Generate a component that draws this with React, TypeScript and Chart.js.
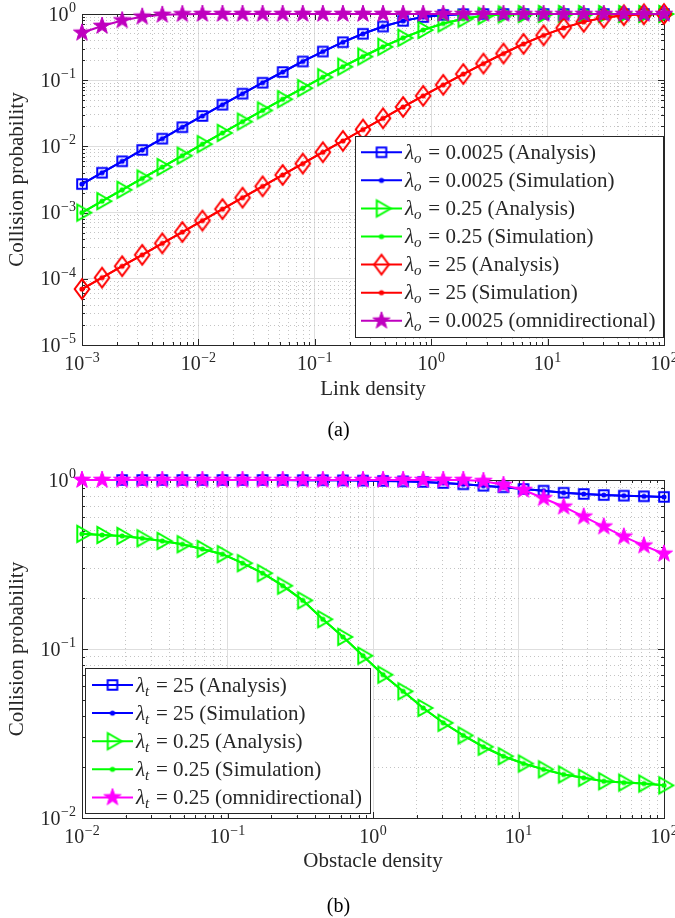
import React, { useEffect, useRef } from 'react';
import { Chart, registerables } from 'chart.js';

Chart.register(...registerables);

const SERIF = '"Liberation Serif", "DejaVu Serif", serif';
const INK = '#262626';
const MAJOR_GRID = '#dedede';
const MINOR_GRID = '#c4c4c4';
const TEXT_SIZE = 21;

// ---------------- (a) Collision probability vs link density ----------------
const linkDensity = [0.001, 0.001487, 0.002212, 0.00329, 0.004894, 0.007279, 0.01083, 0.0161, 0.02395, 0.03562, 0.05298, 0.0788, 0.1172, 0.1743, 0.2593, 0.3857, 0.5736, 0.8532, 1.269, 1.887, 2.807, 4.175, 6.21, 9.237, 13.74, 20.43, 30.39, 45.2, 67.23, 100];
const blueAnalysisA = [0.0027, 0.004, 0.00596, 0.00885, 0.0131, 0.0195, 0.0288, 0.0426, 0.0626, 0.0917, 0.133, 0.192, 0.271, 0.375, 0.503, 0.647, 0.788, 0.9, 0.968, 0.994, 0.9995, 1, 1, 1, 1, 1, 1, 1, 1, 1];
const blueSimulationA = [0.0027, 0.004, 0.00596, 0.00885, 0.0131, 0.0195, 0.0288, 0.0426, 0.0626, 0.0917, 0.133, 0.192, 0.271, 0.375, 0.503, 0.647, 0.788, 0.9, 0.968, 0.994, 0.9995, 1, 1, 1, 1, 1, 1, 1, 1, 1];
const greenAnalysisA = [0.001, 0.00149, 0.00221, 0.00328, 0.00488, 0.00725, 0.0108, 0.016, 0.0237, 0.035, 0.0516, 0.0758, 0.111, 0.16, 0.228, 0.32, 0.437, 0.574, 0.719, 0.849, 0.94, 0.985, 0.998, 1, 1, 1, 1, 1, 1, 1];
const greenSimulationA = [0.001, 0.00149, 0.00221, 0.00328, 0.00488, 0.00725, 0.0108, 0.016, 0.0237, 0.035, 0.0516, 0.0758, 0.111, 0.16, 0.228, 0.32, 0.437, 0.574, 0.719, 0.849, 0.94, 0.985, 0.998, 1, 1, 1, 1, 1, 1, 1];
const redAnalysisA = [0.00007, 0.000104, 0.000155, 0.00023, 0.000343, 0.000509, 0.000758, 0.00113, 0.00168, 0.00249, 0.0037, 0.0055, 0.00817, 0.0121, 0.018, 0.0266, 0.0394, 0.058, 0.085, 0.124, 0.178, 0.253, 0.353, 0.476, 0.618, 0.761, 0.881, 0.958, 0.991, 0.999];
const redSimulationA = [0.00007, 0.000104, 0.000155, 0.00023, 0.000343, 0.000509, 0.000758, 0.00113, 0.00168, 0.00249, 0.0037, 0.0055, 0.00817, 0.0121, 0.018, 0.0266, 0.0394, 0.058, 0.085, 0.124, 0.178, 0.253, 0.353, 0.476, 0.618, 0.761, 0.881, 0.958, 0.991, 0.999];
const omniA = [0.52, 0.66, 0.8, 0.91, 0.972, 0.995, 1, 1, 1, 1, 1, 1, 1, 1, 1, 1, 1, 1, 1, 1, 1, 1, 1, 1, 1, 1, 1, 1, 1, 1];
const legendSubA = 'o';
const legendTextA = ['= 0.0025 (Analysis)', '= 0.0025 (Simulation)', '= 0.25 (Analysis)', '= 0.25 (Simulation)', '= 25 (Analysis)', '= 25 (Simulation)', '= 0.0025 (omnidirectional)'];
const xTickExpA = [-3, -2, -1, 0, 1, 2];
const yTickExpA = [0, -1, -2, -3, -4, -5];
const xTitleA = 'Link density';

// ---------------- (b) Collision probability vs obstacle density ----------------
const obstacleDensity = [0.01, 0.01374, 0.01887, 0.02593, 0.03562, 0.04894, 0.06723, 0.09237, 0.1269, 0.1743, 0.2395, 0.329, 0.452, 0.621, 0.8532, 1.172, 1.61, 2.212, 3.039, 4.175, 5.736, 7.88, 10.83, 14.87, 20.43, 28.07, 38.57, 52.98, 72.79, 100];
const blueAnalysisB = [null, null, 1, 1, 1, 1, 1, 1, 1, 1, 1, 0.998, 0.997, 0.995, 0.992, 0.988, 0.982, 0.974, 0.96, 0.943, 0.925, 0.906, 0.885, 0.865, 0.841, 0.827, 0.815, 0.808, 0.801, 0.794];
const blueSimulationB = [null, null, 1, 1, 1, 1, 1, 1, 1, 1, 1, 0.998, 0.997, 0.995, 0.992, 0.988, 0.982, 0.974, 0.96, 0.943, 0.925, 0.906, 0.885, 0.865, 0.841, 0.827, 0.815, 0.808, 0.801, 0.794];
const greenAnalysisB = [0.48, 0.473, 0.467, 0.452, 0.436, 0.417, 0.391, 0.364, 0.322, 0.281, 0.237, 0.194, 0.15, 0.118, 0.0913, 0.0705, 0.0562, 0.0448, 0.0366, 0.0308, 0.0264, 0.0232, 0.021, 0.0194, 0.0181, 0.0173, 0.0165, 0.0162, 0.016, 0.0156];
const greenSimulationB = [0.48, 0.473, 0.467, 0.452, 0.436, 0.417, 0.391, 0.364, 0.322, 0.281, 0.237, 0.194, 0.15, 0.118, 0.0913, 0.0705, 0.0562, 0.0448, 0.0366, 0.0308, 0.0264, 0.0232, 0.021, 0.0194, 0.0181, 0.0173, 0.0165, 0.0162, 0.016, 0.0156];
const omniB = [1, 1, 1, 1, 1, 1, 1, 1, 1, 1, 1, 1, 1, 1, 1, 1, 1, 1, 1, 1, 0.986, 0.934, 0.873, 0.78, 0.695, 0.607, 0.53, 0.462, 0.409, 0.366];
const legendSubB = 't';
const legendTextB = ['= 25 (Analysis)', '= 25 (Simulation)', '= 0.25 (Analysis)', '= 0.25 (Simulation)', '= 0.25 (omnidirectional)'];
const xTickExpB = [-2, -1, 0, 1, 2];
const yTickExpB = [0, -1, -2];
const xTitleB = 'Obstacle density';

const yTitle = 'Collision probability';
const captions = ['(a)', '(b)'];

const BLUE = '#0000ff';
const GREEN = '#00ff00';
const RED = '#ff0000';
const PURPLE = '#bf00bf';
const MAGENTA = '#ff00ff';

type Series = { xs: number[]; ys: (number | null)[]; color: string; marker: string };
type LegendBox = { x: number; y: number; w: number; h: number; row0: number; step: number; lx1: number; lx2: number; tx: number };
type Spec = {
  series: Series[];
  sub: string;
  texts: string[];
  xExps: number[];
  yExps: number[];
  xTitle: string;
  height: number;
  area: { left: number; right: number; top: number; bottom: number };
  xAxisBottom: number;
  legend: LegendBox;
};

function makeMarker(shape: string, color: string): HTMLCanvasElement {
  const S = 30;
  const c = document.createElement('canvas');
  c.width = S;
  c.height = S;
  const g = c.getContext('2d')!;
  const m = S / 2;
  g.strokeStyle = color;
  g.fillStyle = color;
  g.lineWidth = 2;
  g.lineJoin = 'miter';
  g.miterLimit = 4;
  g.beginPath();
  if (shape === 'square') {
    g.rect(m - 4.8, m - 4.8, 9.6, 9.6);
    g.stroke();
  } else if (shape === 'triangle') {
    g.moveTo(m + 9.3, m);
    g.lineTo(m - 4.7, m - 8);
    g.lineTo(m - 4.7, m + 8);
    g.closePath();
    g.stroke();
  } else if (shape === 'diamond') {
    g.moveTo(m, m - 9.8);
    g.lineTo(m + 7.3, m);
    g.lineTo(m, m + 9.8);
    g.lineTo(m - 7.3, m);
    g.closePath();
    g.stroke();
  } else if (shape === 'star') {
    const R = 9;
    const r = R * 0.4;
    for (let k = 0; k < 10; k++) {
      const a = -Math.PI / 2 + (k * Math.PI) / 5;
      const rr = k % 2 === 0 ? R : r;
      const px = m + rr * Math.cos(a);
      const py = m + rr * Math.sin(a);
      if (k === 0) g.moveTo(px, py);
      else g.lineTo(px, py);
    }
    g.closePath();
    g.fill();
    g.lineWidth = 1;
    g.stroke();
  } else {
    g.arc(m, m, 2.6, 0, Math.PI * 2);
    g.fill();
  }
  return c;
}

function logTicks(exps: number[]) {
  const lo = Math.min(...exps);
  const hi = Math.max(...exps);
  const ticks: { value: number; major: boolean }[] = [];
  for (let e = lo; e < hi; e++) {
    for (let k = 1; k <= 9; k++) ticks.push({ value: k * Math.pow(10, e), major: k === 1 });
  }
  ticks.push({ value: Math.pow(10, hi), major: true });
  return ticks;
}

function drawPow10(ctx: CanvasRenderingContext2D, exp: number, x: number, baseline: number, align: 'center' | 'right') {
  const base = '10';
  const sup = exp < 0 ? '\u2212' + String(-exp) : String(exp);
  ctx.font = `20px ${SERIF}`;
  const wb = ctx.measureText(base).width;
  ctx.font = `14px ${SERIF}`;
  const ws = ctx.measureText(sup).width;
  const total = wb + ws + 0.5;
  const x0 = align === 'center' ? x - total / 2 : x - total;
  ctx.textAlign = 'left';
  ctx.textBaseline = 'alphabetic';
  ctx.fillStyle = INK;
  ctx.font = `20px ${SERIF}`;
  ctx.fillText(base, x0, baseline);
  ctx.font = `14px ${SERIF}`;
  ctx.fillText(sup, x0 + wb + 0.5, baseline - 8.5);
}

function buildChart(canvas: HTMLCanvasElement, spec: Spec) {
  const W = 675;
  const H = spec.height;
  const n = spec.series.length;
  const markers = spec.series.map((s) => makeMarker(s.marker, s.color));

  const datasets = spec.series.map((s, i) => ({
    label: `λ${spec.sub} ${spec.texts[i]}`,
    data: s.xs
      .map((x, j) => ({ x, y: s.ys[j] }))
      .filter((p) => p.y !== null && p.y !== undefined),
    borderColor: s.color,
    backgroundColor: s.color,
    borderWidth: 2,
    pointStyle: markers[i],
    pointRadius: 6,
    pointHoverRadius: 6,
    pointBorderWidth: 0,
    tension: 0,
    fill: false,
    clip: false as const,
    order: n - 1 - i,
  }));

  const a = spec.area;
  const L = spec.legend;

  const axesPlugin = {
    id: 'matlabAxes',
    beforeDatasetsDraw(chart: any) {
      const { ctx, chartArea: ca, scales } = chart;
      const xs = scales.x;
      const ys = scales.y;
      ctx.save();
      ctx.strokeStyle = INK;
      ctx.lineWidth = 1;
      ctx.setLineDash([]);
      ctx.beginPath();
      for (const t of xs.ticks) {
        const px = Math.round(xs.getPixelForValue(t.value)) + 0.5;
        const len = t.major ? 6 : 3;
        ctx.moveTo(px, ca.bottom);
        ctx.lineTo(px, ca.bottom - len);
        ctx.moveTo(px, ca.top);
        ctx.lineTo(px, ca.top + len);
      }
      for (const t of ys.ticks) {
        const py = Math.round(ys.getPixelForValue(t.value)) + 0.5;
        const len = t.major ? 6 : 3;
        ctx.moveTo(ca.left, py);
        ctx.lineTo(ca.left + len, py);
        ctx.moveTo(ca.right, py);
        ctx.lineTo(ca.right - len, py);
      }
      ctx.stroke();
      ctx.strokeRect(Math.round(ca.left) + 0.5, Math.round(ca.top) + 0.5, Math.round(ca.right - ca.left), Math.round(ca.bottom - ca.top));
      ctx.restore();
    },
    afterDraw(chart: any) {
      const { ctx, chartArea: ca, scales } = chart;
      ctx.save();
      for (const e of spec.xExps) {
        drawPow10(ctx, e, scales.x.getPixelForValue(Math.pow(10, e)), ca.bottom + 25, 'center');
      }
      for (const e of spec.yExps) {
        drawPow10(ctx, e, ca.left - 6, scales.y.getPixelForValue(Math.pow(10, e)) + 6.5, 'right');
      }
      // legend
      ctx.fillStyle = '#ffffff';
      ctx.fillRect(L.x, L.y, L.w, L.h);
      ctx.strokeStyle = INK;
      ctx.lineWidth = 1;
      ctx.strokeRect(Math.round(L.x) + 0.5, Math.round(L.y) + 0.5, Math.round(L.w), Math.round(L.h));
      spec.series.forEach((s, i) => {
        const y = L.row0 + i * L.step;
        ctx.strokeStyle = s.color;
        ctx.lineWidth = 2;
        ctx.beginPath();
        ctx.moveTo(L.lx1, y);
        ctx.lineTo(L.lx2, y);
        ctx.stroke();
        const mk = markers[i];
        ctx.drawImage(mk, (L.lx1 + L.lx2) / 2 - mk.width / 2, y - mk.height / 2);
        const bl = y + 6.5;
        let x = L.tx;
        ctx.fillStyle = INK;
        ctx.textAlign = 'left';
        ctx.textBaseline = 'alphabetic';
        ctx.font = `italic ${TEXT_SIZE}px ${SERIF}`;
        ctx.fillText('λ', x, bl);
        x += ctx.measureText('λ').width;
        ctx.font = `italic 15px ${SERIF}`;
        ctx.fillText(spec.sub, x, bl + 4);
        x += ctx.measureText(spec.sub).width + 1.5;
        ctx.font = `${TEXT_SIZE}px ${SERIF}`;
        ctx.fillText(' ' + spec.texts[i], x, bl);
      });
      ctx.restore();
    },
  };

  const xMin = Math.pow(10, Math.min(...spec.xExps));
  const xMax = Math.pow(10, Math.max(...spec.xExps));
  const yMin = Math.pow(10, Math.min(...spec.yExps));
  const yMax = Math.pow(10, Math.max(...spec.yExps));

  const gridColor = (c: any) => (c.tick && c.tick.major ? MAJOR_GRID : MINOR_GRID);
  const gridDash = (c: any) => (c.tick && c.tick.major ? [] : [1, 3]);

  return new Chart(canvas, {
    type: 'line',
    data: { datasets: datasets as any },
    options: {
      animation: false,
      responsive: false,
      maintainAspectRatio: false,
      devicePixelRatio: 1,
      events: [],
      layout: { padding: { left: 0, right: W - a.right, top: a.top, bottom: H - spec.xAxisBottom } },
      plugins: { legend: { display: false }, tooltip: { enabled: false } },
      scales: {
        x: {
          type: 'logarithmic',
          position: 'bottom',
          min: xMin,
          max: xMax,
          afterBuildTicks: (s: any) => {
            s.ticks = logTicks(spec.xExps);
          },
          afterFit: (s: any) => {
            s.height = spec.xAxisBottom - a.bottom;
          },
          ticks: { display: false, autoSkip: false },
          grid: { drawTicks: false, color: gridColor, lineWidth: 1 },
          border: { display: false, dash: gridDash },
          title: { display: true, text: spec.xTitle, color: INK, font: { family: SERIF, size: TEXT_SIZE }, padding: 0 },
        },
        y: {
          type: 'logarithmic',
          position: 'left',
          min: yMin,
          max: yMax,
          afterBuildTicks: (s: any) => {
            s.ticks = logTicks(spec.yExps);
          },
          afterFit: (s: any) => {
            s.width = a.left;
          },
          ticks: { display: false, autoSkip: false },
          grid: { drawTicks: false, color: gridColor, lineWidth: 1 },
          border: { display: false, dash: gridDash },
          title: { display: true, text: yTitle, color: INK, font: { family: SERIF, size: TEXT_SIZE }, padding: { top: 5, bottom: 0 } },
        },
      },
    } as any,
    plugins: [axesPlugin],
  });
}

const specA: Spec = {
  series: [
    { xs: linkDensity, ys: blueAnalysisA, color: BLUE, marker: 'square' },
    { xs: linkDensity, ys: blueSimulationA, color: BLUE, marker: 'dot' },
    { xs: linkDensity, ys: greenAnalysisA, color: GREEN, marker: 'triangle' },
    { xs: linkDensity, ys: greenSimulationA, color: GREEN, marker: 'dot' },
    { xs: linkDensity, ys: redAnalysisA, color: RED, marker: 'diamond' },
    { xs: linkDensity, ys: redSimulationA, color: RED, marker: 'dot' },
    { xs: linkDensity, ys: omniA, color: PURPLE, marker: 'star' },
  ],
  sub: legendSubA,
  texts: legendTextA,
  xExps: xTickExpA,
  yExps: yTickExpA,
  xTitle: xTitleA,
  height: 450,
  area: { left: 82, right: 664, top: 14, bottom: 345 },
  xAxisBottom: 402,
  legend: { x: 355, y: 136, w: 308, h: 201, row0: 152.3, step: 28.07, lx1: 361, lx2: 402, tx: 405 },
};

const specB: Spec = {
  series: [
    { xs: obstacleDensity, ys: blueAnalysisB, color: BLUE, marker: 'square' },
    { xs: obstacleDensity, ys: blueSimulationB, color: BLUE, marker: 'dot' },
    { xs: obstacleDensity, ys: greenAnalysisB, color: GREEN, marker: 'triangle' },
    { xs: obstacleDensity, ys: greenSimulationB, color: GREEN, marker: 'dot' },
    { xs: obstacleDensity, ys: omniB, color: MAGENTA, marker: 'star' },
  ],
  sub: legendSubB,
  texts: legendTextB,
  xExps: xTickExpB,
  yExps: yTickExpB,
  xTitle: xTitleB,
  height: 468,
  area: { left: 82, right: 664, top: 30, bottom: 368 },
  xAxisBottom: 424,
  legend: { x: 85, y: 218, w: 285, h: 145, row0: 235, step: 28.1, lx1: 92, lx2: 133, tx: 136 },
};

function Panel({ spec, top }: { spec: Spec; top: number }) {
  const ref = useRef<HTMLCanvasElement>(null);
  useEffect(() => {
    if (!ref.current) return;
    const chart = buildChart(ref.current, spec);
    return () => chart.destroy();
  }, [spec]);
  return (
    <canvas
      ref={ref}
      width={675}
      height={spec.height}
      style={{ position: 'absolute', left: 0, top, width: 675, height: spec.height, display: 'block' }}
    />
  );
}

const captionStyle: React.CSSProperties = {
  position: 'absolute',
  left: 0,
  width: 677,
  textAlign: 'center',
  fontFamily: SERIF,
  fontSize: 20,
  lineHeight: '24px',
  color: '#000',
};

export default function App() {
  return (
    <div style={{ position: 'absolute', left: 0, top: 0, width: 675, height: 918, background: '#fff', overflow: 'hidden' }}>
      <Panel spec={specA} top={0} />
      <div style={{ ...captionStyle, top: 417 }}>{captions[0]}</div>
      <Panel spec={specB} top={450} />
      <div style={{ ...captionStyle, top: 893 }}>{captions[1]}</div>
    </div>
  );
}
